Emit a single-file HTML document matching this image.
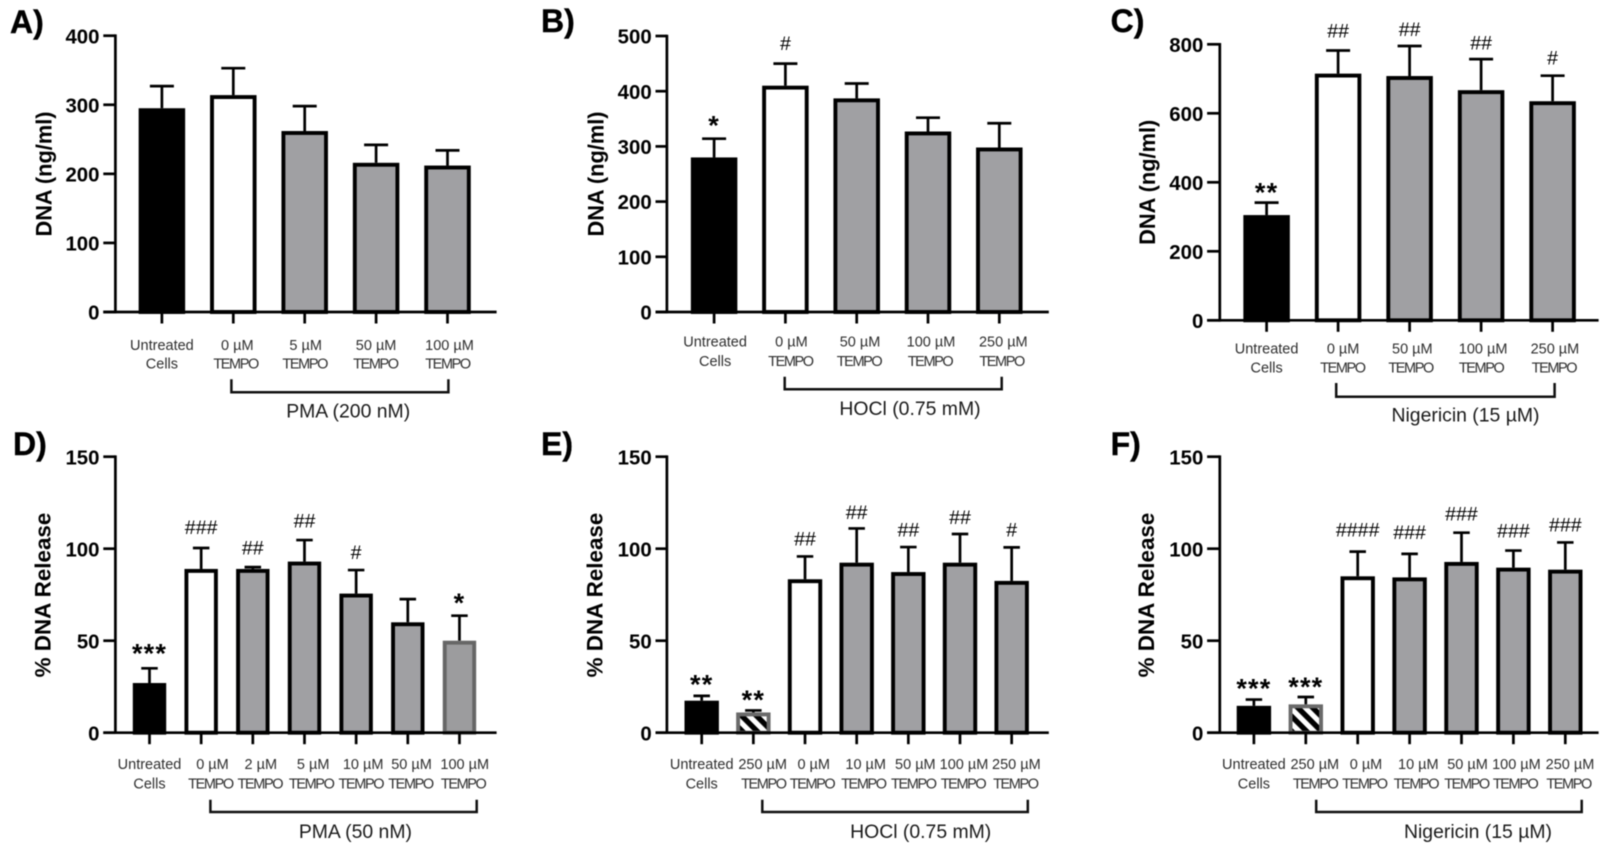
<!DOCTYPE html>
<html lang="en">
<head>
<meta charset="utf-8">
<title>DNA release panels</title>
<style>
html,body{margin:0;padding:0;background:#fff;width:1608px;height:853px;overflow:hidden}
svg{display:block;filter:blur(.5px)}
text{font-family:"Liberation Sans",sans-serif;fill:#000}
</style>
</head>
<body>
<svg id="figure" xmlns="http://www.w3.org/2000/svg" width="1608" height="853" viewBox="0 0 1608 853">
<defs>
<pattern id="hatch" patternUnits="userSpaceOnUse" width="10.5" height="10.5" patternTransform="rotate(45)">
<rect width="10.5" height="10.5" fill="#fff"/>
<rect width="10.5" height="5.4" fill="#000"/>
</pattern>
</defs>
</svg>
<script>
// ---- Data ----
const aCategories = ["Untreated Cells","0 µM TEMPO","5 µM TEMPO","50 µM TEMPO","100 µM TEMPO"];
const aValues = [295,314,262,216,212];
const aErrors = [32,39,36,26,22];
const aMarks = ["","","","",""];
const aTicks = [0,100,200,300,400];

const bCategories = ["Untreated Cells","0 µM TEMPO","50 µM TEMPO","100 µM TEMPO","250 µM TEMPO"];
const bValues = [280,410,387,327,298];
const bErrors = [34,40,27,25,44];
const bMarks = ["*","#","","",""];
const bTicks = [0,100,200,300,400,500];

const cCategories = ["Untreated Cells","0 µM TEMPO","50 µM TEMPO","100 µM TEMPO","250 µM TEMPO"];
const cValues = [305,715,708,667,635];
const cErrors = [36,67,87,90,74];
const cMarks = ["**","##","##","##","#"];
const cTicks = [0,200,400,600,800];

const dCategories = ["Untreated Cells","0 µM TEMPO","2 µM TEMPO","5 µM TEMPO","10 µM TEMPO","50 µM TEMPO","100 µM TEMPO"];
const dValues = [27,89,89,93,75.6,60,50];
const dErrors = [8,11.4,1,11.7,12.8,12.6,13.6];
const dMarks = ["***","###","##","##","#","","*"];
const dTicks = [0,50,100,150];

const eCategories = ["Untreated Cells","250 µM TEMPO","0 µM TEMPO","10 µM TEMPO","50 µM TEMPO","100 µM TEMPO","250 µM TEMPO"];
const eValues = [17.4,11,83.4,92.4,87.3,92.4,82.5];
const eErrors = [2.6,1.1,12.4,18.6,13.6,15.6,18.2];
const eMarks = ["**","**","##","##","##","##","#"];
const eTicks = [0,50,100,150];

const fCategories = ["Untreated Cells","250 µM TEMPO","0 µM TEMPO","10 µM TEMPO","50 µM TEMPO","100 µM TEMPO","250 µM TEMPO"];
const fValues = [14.6,15.4,85,84.4,92.8,89.7,88.6];
const fErrors = [3.4,4,13.4,12.8,15.9,9.3,14.8];
const fMarks = ["***","***","####","###","###","###","###"];
const fTicks = [0,50,100,150];

// ---- Layout (pixels and styles, separate from data) ----
const panels = [
 {id:"a",letter:"A)",letterX:10,letterY:33,title:"DNA (ng/ml)",titleSize:21.8,titleX:44,titleY:174,
  cats:aCategories,vals:aValues,errs:aErrors,marks:aMarks,ticks:aTicks,lift:[0,0,0,0,0],
  axisX:115.4,xStart:103.3,xEnd:496.6,y0:312,yTop:35.7,first:161.9,step:71.4,barW:46.5,capW:24,
  kinds:["k","w","g","g","g"],line1:350,line2:368.7,
  n1:[0,4,1,0,2],n2:[0,2.3,0,-.7,0],
  bracket:[231.4,448.4,379.3,392.3],group:"PMA (200 nM)",groupX:348.2,groupY:417.3},
 {id:"b",letter:"B)",letterX:541,letterY:32,title:"DNA (ng/ml)",titleSize:21.8,titleX:596,titleY:174,
  cats:bCategories,vals:bValues,errs:bErrors,marks:bMarks,ticks:bTicks,lift:[20,20.7,0,0,0],
  axisX:666.9,xStart:655.5,xEnd:1048.8,y0:312,yTop:36,first:714.1,step:71.3,barW:46.5,capW:24,
  kinds:["k","w","g","g","g"],line1:346.7,line2:366,
  n1:[1,6,3.3,3,4],n2:[1,5,2.3,2,2.3],
  bracket:[784.7,1001.7,376.7,389.3],group:"HOCl (0.75 mM)",groupX:910,groupY:415},
 {id:"c",letter:"C)",letterX:1110.6,letterY:32,title:"DNA (ng/ml)",titleSize:21.8,titleX:1147.5,titleY:182.3,
  cats:cCategories,vals:cValues,errs:cErrors,marks:cMarks,ticks:cTicks,lift:[16.7,20,17,16.3,18],
  axisX:1219.8,xStart:1207.1,xEnd:1598.6,y0:320.3,yTop:44.3,first:1266.6,step:71.5,barW:46.5,capW:24,
  kinds:["k","w","g","g","g"],line1:353.3,line2:372.7,
  n1:[0,5,2.7,2,2.3],n2:[0,4.3,1,0,1.3],
  bracket:[1336.2,1554.6,383,396.7],group:"Nigericin (15 µM)",groupX:1465.5,groupY:421.7},
 {id:"d",letter:"D)",letterX:13,letterY:455,title:"% DNA Release",titleSize:22.4,titleX:43,titleY:595,
  cats:dCategories,vals:dValues,errs:dErrors,marks:dMarks,ticks:dTicks,lift:[21.5,20.7,19.7,19.3,17.7,0,19.3],
  axisX:115.4,xStart:103.3,xEnd:496.6,y0:732.7,yTop:456.7,first:149.5,step:51.66,barW:33.4,capW:16.5,
  kinds:["k","w","g","g","g","g","m"],line1:769,line2:788.3,
  n1:[0,11.3,8,8.7,7,3.7,5.3],n2:[0,9.3,7,6.7,4.7,2.7,3.7],
  bracket:[210.4,476.7,799.7,812],group:"PMA (50 nM)",groupX:355.4,groupY:838},
 {id:"e",letter:"E)",letterX:541,letterY:455,title:"% DNA Release",titleSize:22.4,titleX:595,titleY:595,
  cats:eCategories,vals:eValues,errs:eErrors,marks:eMarks,ticks:eTicks,lift:[18,17,17.7,16.3,17.3,16.7,17.7],
  axisX:666.9,xStart:655.5,xEnd:1048.8,y0:732.7,yTop:456.7,first:701.7,step:51.66,barW:34.4,capW:16.5,
  kinds:["k","h","w","g","g","g","g"],line1:769,line2:788.3,
  n1:[0,9.3,8.7,9,7,4,4.7],n2:[0,10,7,6.7,5,3,3.7],
  bracket:[762.3,1027.8,799.7,812],group:"HOCl (0.75 mM)",groupX:920.7,groupY:838},
 {id:"f",letter:"F)",letterX:1110.6,letterY:455,title:"% DNA Release",titleSize:22.4,titleX:1146.5,titleY:595,
  cats:fCategories,vals:fValues,errs:fErrors,marks:fMarks,ticks:fTicks,lift:[18,16.7,22,21.7,19,20,17.7],
  axisX:1219.8,xStart:1207.1,xEnd:1598.6,y0:732.7,yTop:456.7,first:1253.9,step:51.9,barW:34.4,capW:16.5,
  kinds:["k","h","w","g","g","g","g"],line1:769,line2:788.3,
  n1:[0,9,8.3,8.7,6,3,4.7],n2:[0,9.3,6.7,6.3,5,1.7,3.3],
  bracket:[1316.2,1581.7,799.7,812],group:"Nigericin (15 µM)",groupX:1478,groupY:838}
];

const barStyle = {
 k:{fill:"#000",stroke:"#000"},
 w:{fill:"#fff",stroke:"#000"},
 g:{fill:"#a0a0a3",stroke:"#000"},
 m:{fill:"#9c9c9e",stroke:"#666"},
 h:{fill:"url(#hatch)",stroke:"#6a6a6a"}
};

const NS = "http://www.w3.org/2000/svg";
const figure = document.getElementById("figure");
function make(parent, tag, attrs, content){
  const el = document.createElementNS(NS, tag);
  for (const k in attrs) el.setAttribute(k, attrs[k]);
  if (content !== undefined) el.textContent = content;
  parent.appendChild(el);
  return el;
}
function line(parent, x1, y1, x2, y2, w, color){
  return make(parent, "line", {x1:x1,y1:y1,x2:x2,y2:y2,stroke:color||"#000","stroke-width":w});
}

panels.forEach(function(p){
  const yMax = p.ticks[p.ticks.length-1];
  const yScale = function(v){ return p.y0 - v*(p.y0-p.yTop)/yMax; };
  const xScale = function(i){ return p.first + i*p.step; };

  const g = make(figure, "g", {});
  
  

  const letter = make(g, "text", {x:p.letterX,y:p.letterY,"font-size":32,"font-weight":"bold",stroke:"#000","stroke-width":0.4}, p.letter);
  
  

  const title = make(g, "text", {x:0,y:0,"font-size":p.titleSize,"font-weight":"bold","text-anchor":"middle",
    transform:"translate("+(p.titleX+7.5)+","+p.titleY+") rotate(-90)"}, p.title);
  
  

  // bars and error bars
  p.vals.forEach(function(v,i){
    const cx = xScale(i);
    const top = yScale(v);
    const errTop = yScale(v + p.errs[i]);
    const st = barStyle[p.kinds[i]];
    const sw = 3.9;

    const err = line(g, cx, top, cx, errTop, 2.7);
    
    
    const cap = line(g, cx-p.capW/2, errTop, cx+p.capW/2, errTop, 2.7);
    
    

    const bar = make(g, "rect", {x:cx-p.barW/2+sw/2,y:top+sw/2,width:p.barW-sw,height:Math.max(0,p.y0-top-sw/2),
      fill:st.fill,stroke:st.stroke,"stroke-width":sw});
    
    

    const mk = p.marks[i];
    if (mk) {
      const star = mk.charAt(0) === "*";
      const mark = make(g, "text", {x:cx,y:errTop-p.lift[i]+(star?15.7:6.9),"text-anchor":"middle",
        "font-size":star?27:19.6,"letter-spacing":star?1.2:0,"font-weight":star?"bold":"normal"}, mk);
      
      
    }

    const tick = line(g, cx, p.y0, cx, p.y0+11.5, 2.7);
    
    

    const label = p.cats[i];
    const cut = label.lastIndexOf(" ");
    const t1 = make(g, "text", {x:cx+p.n1[i],y:p.line1,"font-size":14.5,"text-anchor":"middle",style:"fill:#2e2e2e"}, label.slice(0,cut));
    
    
    const second = label.slice(cut+1);
    const t2 = make(g, "text", {x:cx+p.n2[i],y:p.line2,"font-size":14.5,"text-anchor":"middle",
      "letter-spacing":second==="TEMPO"?-1.4:0,style:"fill:#2e2e2e"}, second);
    
    
  });

  // axes
  const yAxis = line(g, p.axisX, p.yTop-1.3, p.axisX, p.y0+1.3, 2.7);
  
  
  const xAxis = line(g, p.xStart, p.y0, p.xEnd, p.y0, 2.7);
  
  

  p.ticks.forEach(function(t){
    const y = yScale(t);
    const tk = line(g, p.xStart, y, p.axisX, y, 2.7);
    
    
    const tl = make(g, "text", {x:p.xStart-3.8,y:y+7.6,"font-size":20.4,"font-weight":"bold","text-anchor":"end"}, String(t));
    
    
  });

  // treatment bracket
  const b = p.bracket;
  const br = make(g, "path", {d:"M"+b[0]+" "+b[2]+"V"+b[3]+"H"+b[1]+"V"+b[2],fill:"none",stroke:"#111","stroke-width":2.5});
  
  
  const gl = make(g, "text", {x:p.groupX,y:p.groupY,"font-size":19.4,"text-anchor":"middle",style:"fill:#1a1a1a"}, p.group);
  
  
});
</script>
</body>
</html>
